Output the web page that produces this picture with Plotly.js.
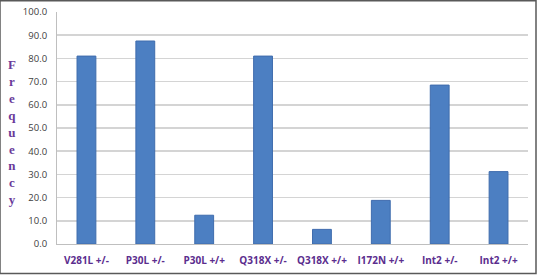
<!DOCTYPE html>
<html>
<head>
<meta charset="utf-8">
<script src="https://cdn.plot.ly/plotly-3.0.1.min.js"></script>
<style>html,body{margin:0;padding:0;background:#fff;}#chart{width:538px;height:275px;}</style>
</head>
<body>
<div id="chart"></div>
<script>
const categories = ["V281L +/-", "P30L +/-", "P30L +/+", "Q318X +/-", "Q318X +/+", "I172N +/+", "Int2 +/-", "Int2 +/+"];
const frequency = [81.0, 87.5, 12.4, 81.0, 6.3, 18.8, 68.5, 31.2];
const yTickValues = [0, 10, 20, 30, 40, 50, 60, 70, 80, 90, 100];
const yTitle = "Frequency";

const trace = {
  type: 'bar',
  x: categories,
  y: frequency,
  marker: {color: '#4c7fc2', line: {color: '#3f6cad', width: 1}},
  hoverinfo: 'x+y'
};

const layout = {
  width: 538, height: 275,
  margin: {l: 57, r: 10, t: 12, b: 31, pad: 0},
  paper_bgcolor: '#ffffff', plot_bgcolor: '#ffffff',
  showlegend: false,
  bargap: 0.68,
  xaxis: {
    type: 'category',
    showgrid: false,
    showline: true, linecolor: '#bfbfbf', linewidth: 1,
    ticks: '',
    ticklabelstandoff: 7,
    tickfont: {family: 'Open Sans, sans-serif', size: 10, color: '#5b2d8e', weight: 'bold'},
    fixedrange: true
  },
  yaxis: {
    range: [0, 100],
    tickvals: yTickValues,
    ticktext: yTickValues.map(v => v.toFixed(1)),
    showgrid: true, gridcolor: '#d4d4d4', gridwidth: 1.5,
    showline: true, linecolor: '#bfbfbf', linewidth: 1,
    zeroline: false,
    ticks: '',
    ticklabelstandoff: 7,
    tickfont: {family: 'Open Sans, sans-serif', size: 9.5, color: '#404040'},
    fixedrange: true
  },
  annotations: [{
    xref: 'paper', yref: 'paper',
    x: (12 - 57) / 471, y: (244 - 132) / 232,
    xanchor: 'center', yanchor: 'middle',
    text: yTitle.split('').join('<br>'),
    showarrow: false,
    font: {family: 'Liberation Serif, DejaVu Serif, serif', size: 13, color: '#6a3a9a', weight: 'bold'}
  }],
  shapes: [{
    type: 'rect', xref: 'paper', yref: 'paper',
    x0: -57 / 471, x1: (536 - 57) / 471,
    y0: (244 - 273.5) / 232, y1: (244 - 0.75) / 232,
    line: {color: '#595959', width: 1.5}, fillcolor: 'rgba(0,0,0,0)'
  }]
};

Plotly.newPlot('chart', [trace], layout, {displayModeBar: false, staticPlot: true});
</script>
</body>
</html>
